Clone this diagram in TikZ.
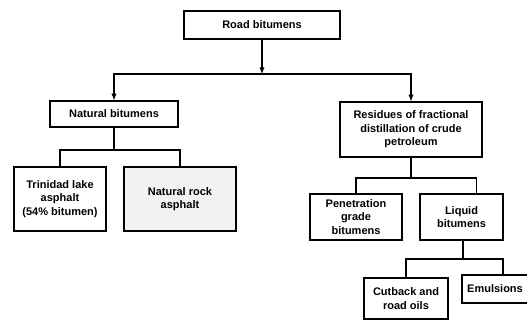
\documentclass[tikz,border=0pt]{standalone}
\usepackage{fontspec}
\setmainfont{Liberation Sans}
\usetikzlibrary{arrows}

\begin{document}
\begin{tikzpicture}[x=1pt,y=-1pt,line width=1.3pt,
   box/.style={draw,rectangle,inner sep=0pt,align=center,
     font=\bfseries\fontsize{11}{13.5}\selectfont},
   arr/.style={-latex}]
   \useasboundingbox (0,0) rectangle (527,320);
   \node[box,minimum width=156,minimum height=28] (road) at (262,25) {Road bitumens};
   \node[box,minimum width=128,minimum height=26] (nat) at (114,114) {Natural bitumens};
   \node[box,minimum width=142,minimum height=55] (res) at (411,129.5)
     {Residues of fractional\\distillation of crude\\petroleum};
   \node[box,minimum width=92,minimum height=64] (trin) at (60,199)
     {Trinidad lake\\asphalt\\(54\% bitumen)};
   \node[box,fill=gray!10,minimum width=112,minimum height=64] (rock) at (180,199)
     {Natural rock\\asphalt};
   \node[box,minimum width=92,minimum height=46] (pen) at (356,217)
     {Penetration\\grade\\bitumens};
   \node[box,minimum width=83,minimum height=46] (liq) at (461.5,217)
     {Liquid\\bitumens};
   \node[box,minimum width=84,minimum height=41] (cut) at (406,298.5)
     {Cutback and\\road oils};
   \node[box,minimum width=66,minimum height=28] (emu) at (495,289) {Emulsions};
   \coordinate (split) at (262,74);
   \coordinate (natj) at (114,150);
   \coordinate (resj) at (411,178);
   \coordinate (liqj) at (463,259);
   \draw[arr] (road) -- (split);
   \draw[arr] (split) -| (nat.north);
   \draw[arr] (split) -| (res.north);
   \draw (nat) -- (natj);
   \draw (trin.north) |- (natj) -| (rock.north);
   \draw (res) -- (resj);
   \draw (pen.north) |- (resj) -| ([xshift=15]liq.north);
   \draw ([xshift=1.5]liq.south) -- (liqj);
   \draw (cut.north) |- (liqj) -| ([xshift=8]emu.north);
\end{tikzpicture}
\end{document}
